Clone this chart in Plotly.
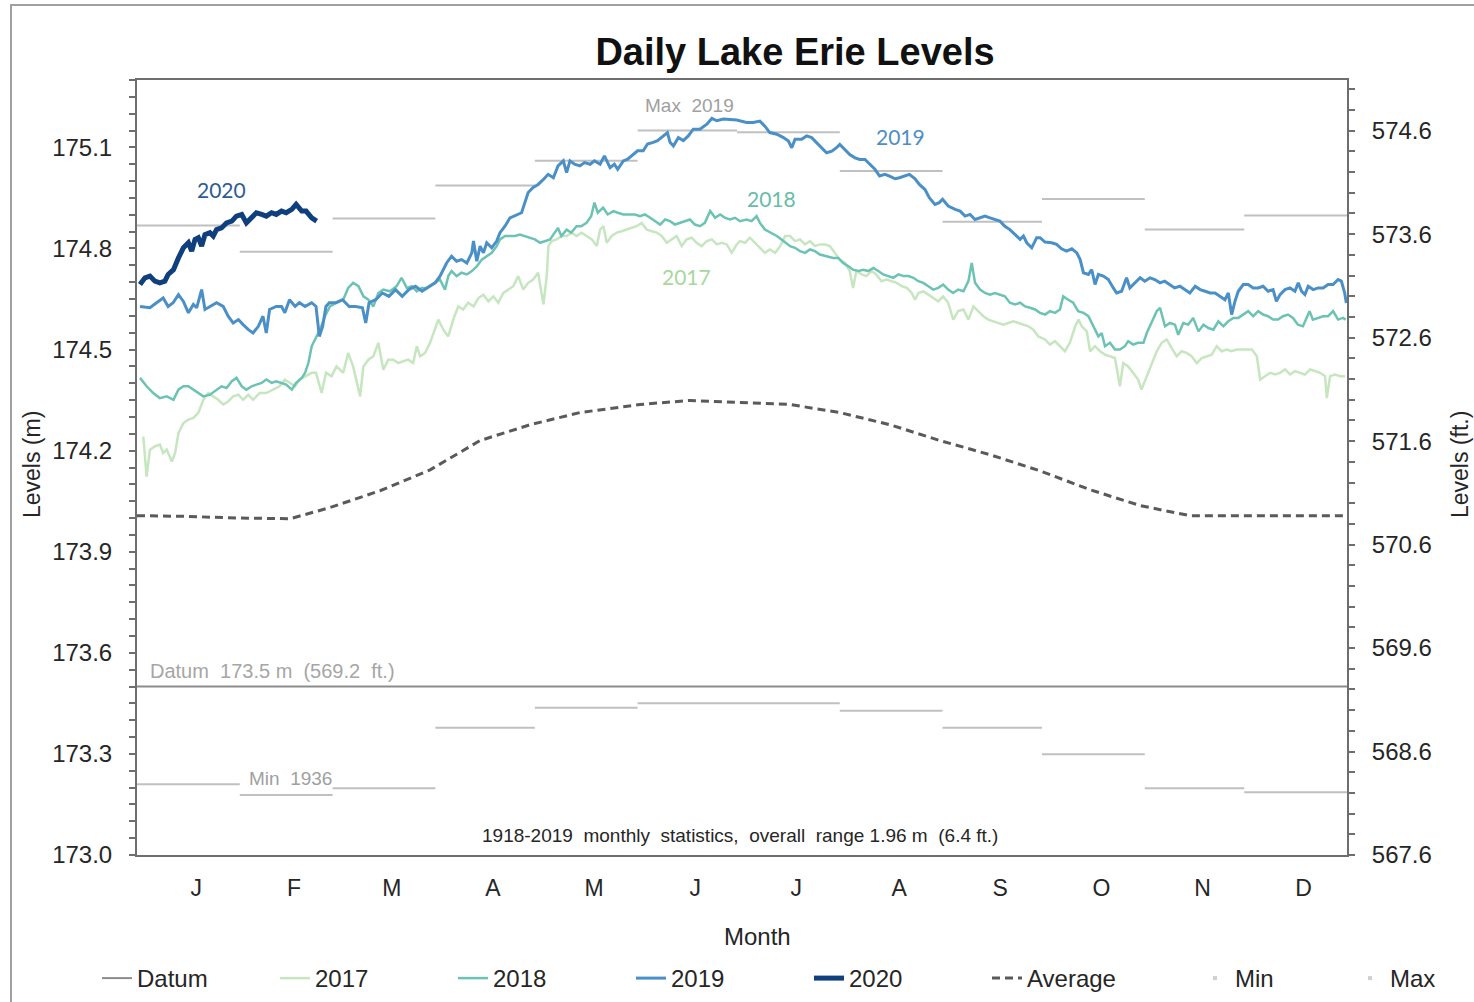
import plotly.graph_objects as go

# ---------------- data ----------------
MONTH_LABELS = ["J", "F", "M", "A", "M", "J", "J", "A", "S", "O", "N", "D"]
MONTH_DAYS = [31, 28, 31, 30, 31, 30, 31, 31, 30, 31, 30, 31]

# 1918-2019 monthly statistics (m)
MONTHLY_MAX = [174.868, 174.790, 174.889, 174.987, 175.060, 175.150,
               175.145, 175.030, 174.879, 174.947, 174.856, 174.898]
MONTHLY_MIN = [173.210, 173.178, 173.198, 173.378, 173.437, 173.450,
               173.450, 173.428, 173.378, 173.299, 173.198, 173.186]

DATUM_M = 173.5

# long-term average  [day of year, level m]
AVERAGE = [[0, 174.007], [15, 174.005], [30, 174.000], [46.2, 173.998], [58.2, 174.031],
           [73.3, 174.081], [88.4, 174.143], [103.5, 174.230], [118.6, 174.277],
           [133.6, 174.313], [151.7, 174.337], [166.8, 174.349], [181.9, 174.343],
           [197, 174.337], [212, 174.313], [227.1, 174.277], [242.2, 174.230],
           [257.3, 174.188], [272.4, 174.140], [287.5, 174.084], [302.6, 174.037],
           [317.6, 174.007], [340, 174.007], [365, 174.007]]

# daily levels  [day of year, level m]
LEVELS_2017 = [
    [1.9, 174.242], [2.9, 174.123], [3.9, 174.203], [5.4, 174.213], [6.9, 174.218], [7.9, 174.193],
    [9, 174.203], [10.5, 174.168], [11.5, 174.193], [12.5, 174.252], [14, 174.282], [15.5, 174.292],
    [17, 174.297], [18.5, 174.312], [20, 174.351], [21.5, 174.371], [23, 174.361], [24.5, 174.351],
    [26, 174.337], [27.5, 174.346], [29, 174.361], [30.6, 174.366], [32, 174.351], [33.6, 174.366],
    [35, 174.351], [37, 174.371], [39, 174.371], [41, 174.381], [43, 174.391], [44.6, 174.411],
    [46, 174.401], [47.7, 174.391], [49, 174.411], [51, 174.421], [52.7, 174.431], [54, 174.431],
    [55.7, 174.371], [57, 174.431], [58.7, 174.421], [60.2, 174.450], [62.2, 174.431], [63.7, 174.490],
    [65.2, 174.450], [67.3, 174.361], [68.3, 174.450], [69.8, 174.470], [71.3, 174.480], [72.8, 174.520],
    [74.3, 174.440], [75.8, 174.470], [77.3, 174.470], [78.8, 174.460], [80.3, 174.465], [81.8, 174.470],
    [83.3, 174.460], [84.4, 174.510], [85.4, 174.480], [86.9, 174.490],
    [88.4, 174.520], [89.9, 174.559], [90.9, 174.589], [92.4, 174.559], [93.9, 174.539], [95.4, 174.589],
    [96.9, 174.628], [98.4, 174.619], [99.9, 174.639], [101.5, 174.628], [103, 174.653], [104.5, 174.663],
    [106, 174.643], [107.5, 174.658], [109, 174.639], [110.5, 174.668], [112, 174.678], [113.5, 174.688],
    [115, 174.718], [116.5, 174.678], [118, 174.698], [119.5, 174.708], [121, 174.728], [122.6, 174.634],
    [123.6, 174.718], [124.1, 174.807], [125.1, 174.822], [126.6, 174.827], [128.1, 174.837], [129.6, 174.837],
    [131.1, 174.847], [132.6, 174.837], [134.1, 174.847], [135.7, 174.837], [137.2, 174.827], [138.7, 174.807],
    [139.7, 174.856], [140.7, 174.866], [141.7, 174.817], [143.2, 174.837], [144.7, 174.847], [146.2, 174.851],
    [147.7, 174.856], [149.2, 174.861], [150.7, 174.866], [152.2, 174.876], [153.8, 174.856], [155.3, 174.851],
    [156.8, 174.847], [158.3, 174.837], [159.8, 174.817], [161.3, 174.827], [162.8, 174.837], [164.3, 174.807],
    [165.8, 174.827], [167.3, 174.832], [168.8, 174.817], [170.3, 174.807], [171.9, 174.822], [173.4, 174.827],
    [174.9, 174.812], [176.4, 174.817], [177.9, 174.812], [179.4, 174.787], [180.9, 174.812],
    [181.9, 174.822], [183.4, 174.817], [184.9, 174.832], [186.4, 174.817], [187.9, 174.802], [189.4, 174.787],
    [190.9, 174.797], [192.5, 174.787], [194, 174.807], [195.5, 174.837], [197, 174.837], [198.5, 174.822],
    [200, 174.827], [201.5, 174.812], [203, 174.822], [204.5, 174.807], [206, 174.812], [207.5, 174.812],
    [209, 174.807], [210.6, 174.787], [212, 174.767], [213.6, 174.757], [215, 174.733], [216, 174.683],
    [217, 174.733], [218.6, 174.723], [220, 174.718], [221.6, 174.733], [223, 174.723], [224.6, 174.703],
    [226.1, 174.708], [227.6, 174.703], [229.2, 174.698], [230.7, 174.688], [232.2, 174.683], [233.7, 174.668],
    [234.7, 174.648], [235.7, 174.668], [237.2, 174.673], [238.7, 174.663], [240.2, 174.653], [241.7, 174.643],
    [243.2, 174.658], [244.7, 174.639], [246.2, 174.589], [247.7, 174.614], [249.3, 174.619], [250.8, 174.589],
    [252.3, 174.628], [253.8, 174.614], [255.3, 174.599], [256.8, 174.589], [258.3, 174.584], [259.8, 174.579],
    [261.3, 174.574], [262.8, 174.579], [264.4, 174.584], [265.9, 174.579], [267.4, 174.574], [268.9, 174.569],
    [270.4, 174.559], [271.9, 174.539],
    [273.9, 174.530], [275.4, 174.515], [276.9, 174.525], [278.4, 174.510], [279.9, 174.495], [281.4, 174.520],
    [283, 174.569], [284, 174.589], [285, 174.569], [286.5, 174.554], [287.5, 174.495], [289, 174.510],
    [290.5, 174.495], [292, 174.485], [293.5, 174.480], [295, 174.475], [296.5, 174.391], [297.5, 174.460],
    [299, 174.450], [300.5, 174.431], [302, 174.411], [303, 174.381], [304.6, 174.421], [306.1, 174.460],
    [307.6, 174.495], [309.1, 174.520], [310.6, 174.530], [312.1, 174.505], [313.6, 174.480], [315.1, 174.495],
    [316.6, 174.490], [318.1, 174.480], [319.7, 174.460], [321.2, 174.475], [322.7, 174.480], [324.2, 174.485],
    [325.7, 174.510], [327.2, 174.495], [328.7, 174.500], [330.2, 174.495], [331.7, 174.500], [333.2, 174.500],
    [334.8, 174.500], [336.3, 174.500], [337.8, 174.480], [338.8, 174.411], [340.3, 174.421], [341.8, 174.431],
    [343.3, 174.426], [344.8, 174.431], [346.3, 174.441], [347.8, 174.426], [349.3, 174.436], [350.8, 174.431],
    [352.3, 174.426], [353.9, 174.441], [355.4, 174.436], [356.9, 174.431], [358.4, 174.421], [358.9, 174.356],
    [359.9, 174.421], [361.4, 174.426], [362.9, 174.421], [364.4, 174.421],
]

LEVELS_2018 = [
    [0.9, 174.416], [2.9, 174.391], [4.9, 174.371], [6.9, 174.356], [9, 174.361], [11, 174.351],
    [12.5, 174.381], [14, 174.391], [15.5, 174.391], [17, 174.381], [18.5, 174.371], [20, 174.361],
    [22, 174.366], [24, 174.381], [25.5, 174.391], [27, 174.386], [28.6, 174.406], [30, 174.416],
    [31.6, 174.391], [33, 174.381], [34.6, 174.391], [36, 174.396], [37.6, 174.401], [39, 174.411],
    [40.6, 174.401], [42, 174.406], [43.6, 174.401], [45, 174.396], [46.7, 174.381], [48, 174.401],
    [49.7, 174.416], [50.7, 174.431], [51.7, 174.460], [52.7, 174.510], [53.7, 174.530], [55.2, 174.559],
    [56.7, 174.599], [58.2, 174.628], [60.2, 174.639], [62.2, 174.648], [63.7, 174.683], [65.2, 174.698],
    [66.8, 174.688], [68.3, 174.658], [69.8, 174.648], [71.3, 174.628], [72.8, 174.668], [74.3, 174.678],
    [76.3, 174.673], [78.3, 174.688], [79.8, 174.713], [81.4, 174.683], [82.9, 174.688], [84.4, 174.673],
    [85.9, 174.683], [87.4, 174.683],
    [89.9, 174.698], [91.4, 174.708], [92.9, 174.678], [93.9, 174.718], [94.9, 174.733], [96.4, 174.718],
    [97.9, 174.728], [99.5, 174.723], [101, 174.733], [102.5, 174.747], [104, 174.767], [105.5, 174.777],
    [107, 174.787], [108.5, 174.807], [109.5, 174.827], [111, 174.837], [112.5, 174.837], [114, 174.837],
    [115.5, 174.841], [117, 174.837], [118.5, 174.832], [120, 174.827], [121.6, 174.817], [123, 174.822],
    [124.6, 174.827], [126, 174.847], [127, 174.861], [128, 174.837], [129.6, 174.856], [131, 174.847],
    [132.6, 174.866], [134, 174.866], [135.6, 174.876], [137, 174.896], [138, 174.936], [139, 174.906],
    [140.6, 174.921], [142, 174.901], [143.7, 174.911], [145, 174.906], [146.7, 174.901], [148.7, 174.901],
    [150.2, 174.901], [151.7, 174.896], [153.2, 174.901], [154.8, 174.891], [156.3, 174.881], [157.8, 174.871],
    [159.3, 174.886], [160.8, 174.881], [162.3, 174.871], [163.8, 174.876], [165.3, 174.881], [166.8, 174.886],
    [168.3, 174.871], [169.8, 174.866], [171.3, 174.876], [172.9, 174.911], [174.4, 174.891], [175.9, 174.901],
    [177.4, 174.891], [178.9, 174.886], [180.4, 174.891],
    [181.9, 174.881], [183.9, 174.886], [185.4, 174.881], [186.9, 174.896], [187.9, 174.876], [189.4, 174.856],
    [190.9, 174.847], [193, 174.837], [195, 174.822], [197, 174.807], [198.5, 174.802], [200, 174.792],
    [201.5, 174.787], [203, 174.797], [204.5, 174.792], [206, 174.782], [208, 174.777], [210, 174.772],
    [211.5, 174.772], [213, 174.757], [214.6, 174.747], [216, 174.737], [217.6, 174.733], [219.1, 174.737],
    [220.6, 174.733], [222.1, 174.742], [223.6, 174.733], [225.1, 174.723], [226.6, 174.718], [228.1, 174.713],
    [229.7, 174.723], [231.2, 174.718], [232.7, 174.718], [234.2, 174.713], [235.7, 174.703], [237.2, 174.698],
    [238.7, 174.688], [240.2, 174.678], [241.7, 174.683], [243.2, 174.693], [244.7, 174.678], [246.2, 174.668],
    [247.7, 174.678], [249.3, 174.673], [250.8, 174.703], [251.8, 174.757], [252.8, 174.698], [254.3, 174.678],
    [255.8, 174.668], [257.3, 174.663], [258.8, 174.668], [260.3, 174.663], [261.8, 174.658], [263.3, 174.639],
    [264.9, 174.634], [266.4, 174.639], [267.9, 174.628], [269.4, 174.624], [270.9, 174.619],
    [272.4, 174.609], [273.9, 174.604], [275.4, 174.614], [276.9, 174.609], [278.4, 174.619], [279.4, 174.658],
    [280.9, 174.648], [282.4, 174.639], [283.9, 174.614], [285.5, 174.609], [287, 174.599], [288.5, 174.569],
    [290, 174.539], [291, 174.549], [292, 174.510], [293.5, 174.520], [295, 174.500], [296.5, 174.500],
    [298, 174.510], [299, 174.525], [300.5, 174.515], [302, 174.520], [303.6, 174.520], [304.6, 174.549],
    [306.1, 174.579], [307.6, 174.614], [308.6, 174.624], [310.1, 174.569], [311.6, 174.579], [313.1, 174.574],
    [314.1, 174.544], [315.6, 174.579], [317.1, 174.574], [318.6, 174.594], [320.2, 174.554], [321.7, 174.574],
    [323.2, 174.564], [324.7, 174.559], [326.2, 174.584], [327.7, 174.569], [329.2, 174.584], [330.7, 174.594],
    [332.2, 174.594], [333.7, 174.604], [335.2, 174.614], [336.7, 174.599], [338.2, 174.614], [339.7, 174.604],
    [341.2, 174.599], [342.7, 174.589], [344.2, 174.589], [345.7, 174.599], [347.2, 174.604], [348.7, 174.594],
    [350.2, 174.574], [351.7, 174.569], [352.7, 174.594], [353.7, 174.614], [354.7, 174.589], [356.2, 174.594],
    [357.8, 174.599], [359.3, 174.599], [360.8, 174.614], [362.3, 174.589], [363.8, 174.594], [364.6, 174.589],
]

LEVELS_2019 = [
    [0.9, 174.628], [3.9, 174.624], [5.9, 174.639], [7.9, 174.653], [9.4, 174.628], [10.9, 174.639],
    [12.5, 174.663], [14, 174.643], [15.5, 174.609], [17, 174.634], [18, 174.624], [19.5, 174.678],
    [20.5, 174.619], [22, 174.628], [24, 174.639], [26, 174.628], [27.5, 174.599], [29, 174.579],
    [30.6, 174.589], [32, 174.574], [33.6, 174.559], [35, 174.549], [36.6, 174.569], [38, 174.599],
    [39, 174.549], [40, 174.619], [42, 174.628], [43.6, 174.628], [44.6, 174.609], [46, 174.648],
    [47.7, 174.628], [49, 174.639], [50.7, 174.628], [52.7, 174.639], [54, 174.628], [55, 174.539],
    [56, 174.569], [57, 174.628], [58, 174.639], [60, 174.639], [62, 174.648], [64, 174.628],
    [66, 174.628], [68, 174.624], [69, 174.579], [70, 174.639], [72, 174.648], [74, 174.668],
    [76, 174.658], [78, 174.678], [80, 174.658], [82, 174.678], [84, 174.688], [86, 174.673],
    [88.4, 174.688], [89.9, 174.698], [91.4, 174.718], [93.4, 174.757], [94.9, 174.777], [96.4, 174.762],
    [97.9, 174.767], [99.5, 174.757], [101, 174.787], [101.5, 174.822], [102.5, 174.762], [103.5, 174.807],
    [104.5, 174.787], [105.5, 174.817], [107, 174.802], [108.5, 174.822], [109.5, 174.847], [111, 174.866],
    [112.5, 174.891], [114.5, 174.901], [116, 174.906], [117, 174.936], [118, 174.966], [119.5, 174.981],
    [121, 174.990], [122.6, 175.005], [124, 175.020], [125.6, 175.010], [127, 175.045], [128.6, 175.060],
    [129.6, 175.025], [130.6, 175.060], [132, 175.050], [133.6, 175.045], [135, 175.055], [136.7, 175.050],
    [138, 175.060], [139.7, 175.050], [141, 175.075], [142.7, 175.040], [144, 175.050], [145, 175.035],
    [146.7, 175.060], [148, 175.065], [149.7, 175.080], [151, 175.090], [152.7, 175.090], [154, 175.110],
    [155.7, 175.115], [157, 175.120], [158.8, 175.134], [160, 175.144], [160.8, 175.115], [161.8, 175.104],
    [163.3, 175.129], [164.8, 175.120], [166.3, 175.134], [167.8, 175.154], [169.8, 175.154], [171.9, 175.169],
    [173.4, 175.186], [174.9, 175.179], [176.9, 175.184], [178.9, 175.182], [180.9, 175.181],
    [183.9, 175.174], [185.9, 175.174], [187.9, 175.178], [189.4, 175.163], [190.9, 175.144], [193, 175.139],
    [195, 175.129], [196.5, 175.119], [197.5, 175.099], [198.5, 175.124], [200.5, 175.124], [202, 175.134],
    [203.5, 175.129], [205, 175.114], [206.5, 175.099], [208, 175.084], [209.6, 175.089], [211, 175.099],
    [212, 175.109], [213.6, 175.094], [215, 175.079], [216.6, 175.069], [218, 175.064], [219.6, 175.064],
    [221, 175.050], [222.6, 175.035], [224, 175.015], [225.6, 175.020], [227, 175.015], [228.7, 175.007],
    [230, 175.010], [231.7, 175.017], [233, 175.020], [234.7, 175.007], [236, 174.990], [237.7, 174.975],
    [239, 174.951], [240.7, 174.931], [242, 174.936], [243, 174.946], [244.7, 174.926], [246.8, 174.916],
    [248.3, 174.911], [249.8, 174.896], [251.3, 174.901], [252.8, 174.886], [254.3, 174.891], [255.8, 174.896],
    [257.3, 174.891], [258.8, 174.886], [260.3, 174.881], [261.8, 174.866], [263.3, 174.856], [264.9, 174.841],
    [266.4, 174.827], [267.4, 174.837], [268.4, 174.817], [269.9, 174.802], [271.4, 174.832],
    [272.4, 174.832], [273.9, 174.819], [275.9, 174.817], [277.4, 174.812], [278.9, 174.799], [280.4, 174.792],
    [282, 174.799], [283.5, 174.787], [284.5, 174.767], [285.5, 174.728], [287, 174.723], [288, 174.737],
    [289, 174.693], [290, 174.723], [291.5, 174.718], [293, 174.708], [294.5, 174.683], [295.5, 174.668],
    [297, 174.673], [298.5, 174.713], [299.5, 174.683], [301, 174.698], [302.6, 174.713], [304, 174.703],
    [305.6, 174.713], [307, 174.708], [308.6, 174.698], [310, 174.703], [311.6, 174.693], [313, 174.683],
    [314.6, 174.688], [316.1, 174.678], [317.6, 174.668], [319.2, 174.688], [320.7, 174.678], [322.2, 174.673],
    [323.7, 174.668], [325.2, 174.668], [326.7, 174.658], [328.2, 174.648], [329.2, 174.668], [330.2, 174.604],
    [331.2, 174.643], [332.2, 174.673], [333.7, 174.693], [335.2, 174.693], [336.7, 174.683], [338.2, 174.683],
    [339.7, 174.688], [341.2, 174.673], [342.7, 174.678], [343.7, 174.643], [344.8, 174.663], [346.3, 174.678],
    [347.8, 174.683], [349.3, 174.673], [350.3, 174.698], [351.3, 174.673], [352.3, 174.663], [353.3, 174.688],
    [354.8, 174.678], [356.3, 174.683], [357.8, 174.683], [359.3, 174.693], [360.8, 174.693], [362.3, 174.708],
    [363.3, 174.703], [364.3, 174.668], [364.8, 174.638],
]

LEVELS_2020 = [
    [0.9, 174.693], [2.4, 174.713], [3.9, 174.718], [5.4, 174.703], [6.9, 174.698], [8.4, 174.703],
    [9.4, 174.723], [11, 174.737], [12.5, 174.772], [14, 174.802], [15.5, 174.817], [16.5, 174.792],
    [17.5, 174.827], [18.5, 174.832], [19.5, 174.807], [20.5, 174.841], [22, 174.847], [23, 174.837],
    [24, 174.856], [25.5, 174.861], [27, 174.876], [28.6, 174.881], [30, 174.896], [31.6, 174.901],
    [33, 174.876], [34.6, 174.891], [36, 174.906], [37.6, 174.901], [39, 174.896], [40.6, 174.906],
    [42, 174.901], [43.6, 174.911], [45, 174.906], [46.7, 174.916], [48, 174.931], [49.7, 174.911],
    [51, 174.911], [52.7, 174.891], [54.2, 174.881],
]

# ---------------- styling ----------------
FONT = "Liberation Sans, Arial, sans-serif"
AXIS_COLOR = "#6e6e6e"
TEXT_COLOR = "#262626"

C2017 = "#c6e6c0"
C2018 = "#6cc3b4"
C2019 = "#4a90c6"
C2020 = "#0f3f7c"
CAVG = "#5a5a5a"
CDATUM = "#8c8c8c"
CSTAT = "#c0c0c0"

W, H = 1474, 1002
ML, MR, MT, MB = 137, 127, 80, 147
PW, PH = W - ML - MR, H - MT - MB


def px_x(px):
    return (px - ML) / PW


def px_y(py):
    return (H - MB - py) / PH


month_start = [0]
for n in MONTH_DAYS:
    month_start.append(month_start[-1] + n)
tick_pos = [month_start[i] + MONTH_DAYS[i] / 2 + 2.4 for i in range(12)]


def seg(values):
    xs, ys = [], []
    for i, v in enumerate(values):
        xs += [month_start[i], month_start[i + 1], None]
        ys += [v, v, None]
    return xs, ys


fig = go.Figure()

mx_x, mx_y = seg(MONTHLY_MAX)
mn_x, mn_y = seg(MONTHLY_MIN)
fig.add_trace(go.Scatter(x=mx_x, y=mx_y, mode="lines", line=dict(color=CSTAT, width=2),
                         showlegend=False, hoverinfo="skip"))
fig.add_trace(go.Scatter(x=mn_x, y=mn_y, mode="lines", line=dict(color=CSTAT, width=2),
                         showlegend=False, hoverinfo="skip"))

fig.add_trace(go.Scatter(x=[0, 365], y=[DATUM_M, DATUM_M], mode="lines", name="Datum",
                         line=dict(color=CDATUM, width=2), legendrank=1))
fig.add_trace(go.Scatter(x=[p[0] for p in AVERAGE], y=[p[1] for p in AVERAGE], mode="lines",
                         name="Average", line=dict(color=CAVG, width=3, dash="8px,5px"), legendrank=6))
fig.add_trace(go.Scatter(x=[p[0] for p in LEVELS_2017], y=[p[1] for p in LEVELS_2017], mode="lines",
                         name="2017", line=dict(color=C2017, width=2.5), legendrank=2))
fig.add_trace(go.Scatter(x=[p[0] for p in LEVELS_2018], y=[p[1] for p in LEVELS_2018], mode="lines",
                         name="2018", line=dict(color=C2018, width=2.5), legendrank=3))
fig.add_trace(go.Scatter(x=[p[0] for p in LEVELS_2019], y=[p[1] for p in LEVELS_2019], mode="lines",
                         name="2019", line=dict(color=C2019, width=3), legendrank=4))
fig.add_trace(go.Scatter(x=[p[0] for p in LEVELS_2020], y=[p[1] for p in LEVELS_2020], mode="lines",
                         name="2020", line=dict(color=C2020, width=5), legendrank=5))

# legend-only markers for Min / Max
fig.add_trace(go.Scatter(x=[None], y=[None], mode="markers", name="Min", legend="legend2",
                         marker=dict(color="#d0d0d0", size=4, symbol="square")))
fig.add_trace(go.Scatter(x=[None], y=[None], mode="markers", name="Max", legend="legend3",
                         marker=dict(color="#d0d0d0", size=4, symbol="square")))

# feet axis companion (datum in feet, invisible)
fig.add_trace(go.Scatter(x=[0, 365], y=[DATUM_M / 0.3048, DATUM_M / 0.3048], yaxis="y2",
                         mode="lines", line=dict(width=0, color="rgba(0,0,0,0)"),
                         showlegend=False, hoverinfo="skip"))

annotations = [
    dict(x=25.6, y=174.975, text="2020", font=dict(family="Lato", size=21, color="#2f5c90")),
    dict(x=230.2, y=175.132, text="2019", font=dict(family="Lato", size=21, color="#4f8ec2")),
    dict(x=191.3, y=174.948, text="2018", font=dict(family="Lato", size=21, color="#68bca9")),
    dict(x=165.9, y=174.717, text="2017", font=dict(family="Lato", size=21, color="#a7d79d")),
    dict(x=166.8, y=175.225, text="Max  2019", font=dict(family=FONT, size=19, color="#a0a0a0")),
    dict(x=46.2, y=173.226, text="Min  1936", font=dict(family=FONT, size=19, color="#a0a0a0")),
    dict(x=3.3, y=173.546, text="Datum  173.5 m  (569.2  ft.)", xanchor="left",
         font=dict(family=FONT, size=20, color="#a6a6a6")),
    dict(x=181.9, y=173.059, text="1918-2019  monthly  statistics,  overall  range 1.96 m  (6.4 ft.)",
         font=dict(family=FONT, size=19, color=TEXT_COLOR)),
    dict(xref="paper", yref="paper", x=px_x(32), y=px_y(465), text="Levels (m)", textangle=-90,
         font=dict(family=FONT, size=23, color=TEXT_COLOR)),
    dict(xref="paper", yref="paper", x=px_x(1460), y=px_y(465), text="Levels (ft.)", textangle=-90,
         font=dict(family=FONT, size=23, color=TEXT_COLOR)),
    dict(xref="paper", yref="paper", x=px_x(757), y=px_y(936), text="Month",
         font=dict(family=FONT, size=24, color=TEXT_COLOR)),
]
for a in annotations:
    a.setdefault("showarrow", False)
    a.setdefault("xanchor", "center")
    a.setdefault("yanchor", "middle")

legend_common = dict(orientation="h", xanchor="left", y=px_y(1001), yanchor="bottom",
                     font=dict(size=24, color=TEXT_COLOR), bgcolor="rgba(0,0,0,0)")

fig.update_layout(
    width=W, height=H,
    margin=dict(l=ML, r=MR, t=MT, b=MB, autoexpand=False),
    paper_bgcolor="white", plot_bgcolor="white",
    font=dict(family=FONT, color=TEXT_COLOR),
    title=dict(text="Daily Lake Erie Levels", x=795 / W, xanchor="center",
               y=1 - 52 / H, yanchor="middle", yref="container", xref="container",
               font=dict(family=FONT, size=38, color="#111111", weight="bold")),
    xaxis=dict(range=[0, 365], showgrid=False, zeroline=False, showline=True, linecolor=AXIS_COLOR,
               linewidth=2, mirror=True, tickmode="array", tickvals=tick_pos, ticktext=MONTH_LABELS,
               ticks="", ticklabelstandoff=11, tickfont=dict(size=23, color=TEXT_COLOR)),
    yaxis=dict(range=[173.0, 175.3], tick0=173.0, dtick=0.3, tickformat=".1f", showgrid=False,
               zeroline=False, showline=True, linecolor=AXIS_COLOR, linewidth=2,
               ticks="outside", ticklen=6, tickwidth=1.5, tickcolor=AXIS_COLOR, ticklabelstandoff=12,
               minor=dict(dtick=0.05, ticks="outside", ticklen=6, tickwidth=1.5, tickcolor=AXIS_COLOR),
               tickfont=dict(size=24, color=TEXT_COLOR)),
    yaxis2=dict(overlaying="y", side="right", range=[567.6, 575.09], tick0=567.6, dtick=1,
                tickformat=".1f", showgrid=False, zeroline=False, showline=True, linecolor=AXIS_COLOR,
                linewidth=2, ticks="outside", ticklen=6, tickwidth=1.5, tickcolor=AXIS_COLOR,
                ticklabelstandoff=12,
                minor=dict(dtick=0.2, ticks="outside", ticklen=6, tickwidth=1.5, tickcolor=AXIS_COLOR),
                tickfont=dict(size=24, color=TEXT_COLOR)),
    legend=dict(x=px_x(97), entrywidth=133, entrywidthmode="pixels", traceorder="normal",
                **legend_common),
    legend2=dict(x=px_x(1195), **legend_common),
    legend3=dict(x=px_x(1350), **legend_common),
    annotations=annotations,
    shapes=[dict(type="rect", xref="paper", yref="paper", x0=px_x(11), x1=px_x(1490),
                 y0=px_y(1010), y1=px_y(5), line=dict(color="#a0a0a0", width=2),
                 fillcolor="rgba(0,0,0,0)", layer="below")],
)

fig.write_html("out.html", config={"displayModeBar": False},
               post_script="document.body.style.margin='0';document.body.style.overflow='hidden';")
